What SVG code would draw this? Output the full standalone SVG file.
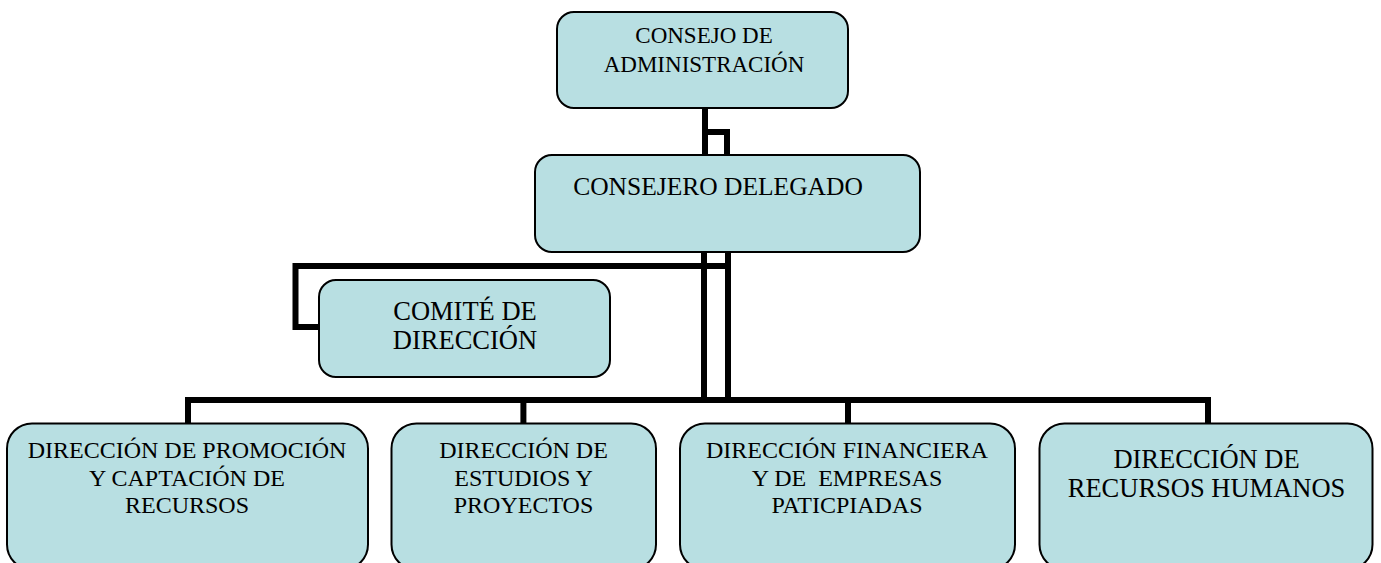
<svg xmlns="http://www.w3.org/2000/svg" width="1381" height="563" viewBox="0 0 1381 563">
<style>
.box{fill:#B8DFE2;stroke:#000;stroke-width:2}
.t{fill:#000;text-anchor:middle}
.c{fill:none;stroke:#000;stroke-width:6;stroke-linejoin:miter;stroke-linecap:butt}
</style>
<rect x="0" y="0" width="1381" height="563" fill="#fff"/>
<g id="connectors">
<path class="c" d="M705,108 V155"/>
<path class="c" d="M705,132 H727 V155"/>
<path class="c" d="M704,252 V403"/>
<path class="c" d="M728,252 V403"/>
<path class="c" d="M731,266 H295.5 V327 H320"/>
<path class="c" d="M185,400 H1211"/>
<path class="c" d="M188,400 V424"/>
<path class="c" d="M523.4,400 V424"/>
<path class="c" d="M848,400 V424"/>
<path class="c" d="M1208,400 V424"/>
</g>
<g font-family="Liberation Serif, Times New Roman, serif">
<g id="consejo-administracion">
<rect class="box" x="557" y="12" width="291" height="96" rx="17"/>
<text class="t" font-size="23" x="704" y="43">CONSEJO DE</text>
<text class="t" font-size="23" x="704" y="72">ADMINISTRACIÓN</text>
</g>
<g id="consejero-delegado">
<rect class="box" x="535" y="155" width="385" height="97" rx="17"/>
<text class="t" font-size="25.5" x="718" y="195">CONSEJERO DELEGADO</text>
</g>
<g id="comite-direccion">
<rect class="box" x="319" y="280" width="291" height="97" rx="17"/>
<text class="t" font-size="26.5" x="465" y="320">COMITÉ DE</text>
<text class="t" font-size="26.5" x="465" y="349">DIRECCIÓN</text>
</g>
<g id="dir-promocion">
<rect class="box" x="7" y="423.5" width="361" height="146" rx="25"/>
<text class="t" font-size="24" x="187" y="458">DIRECCIÓN DE PROMOCIÓN</text>
<text class="t" font-size="24" x="187" y="485.5">Y CAPTACIÓN DE</text>
<text class="t" font-size="24" x="187" y="513">RECURSOS</text>
</g>
<g id="dir-estudios">
<rect class="box" x="391.5" y="423.5" width="264.5" height="146" rx="25"/>
<text class="t" font-size="24" x="523.5" y="458">DIRECCIÓN DE</text>
<text class="t" font-size="24" x="523.5" y="485.5">ESTUDIOS Y</text>
<text class="t" font-size="24" x="523.5" y="513">PROYECTOS</text>
</g>
<g id="dir-financiera">
<rect class="box" x="680" y="423.5" width="335" height="146" rx="25"/>
<text class="t" font-size="24" x="847" y="458">DIRECCIÓN FINANCIERA</text>
<text class="t" font-size="24" x="847" y="485.5" xml:space="preserve">Y DE  EMPRESAS</text>
<text class="t" font-size="24" x="847" y="513">PATICPIADAS</text>
</g>
<g id="dir-rrhh">
<rect class="box" x="1039.5" y="423.5" width="333" height="146" rx="25"/>
<text class="t" font-size="26.5" x="1206.5" y="468">DIRECCIÓN DE</text>
<text class="t" font-size="26.5" x="1206.5" y="496.5">RECURSOS HUMANOS</text>
</g>
</g>
</svg>
